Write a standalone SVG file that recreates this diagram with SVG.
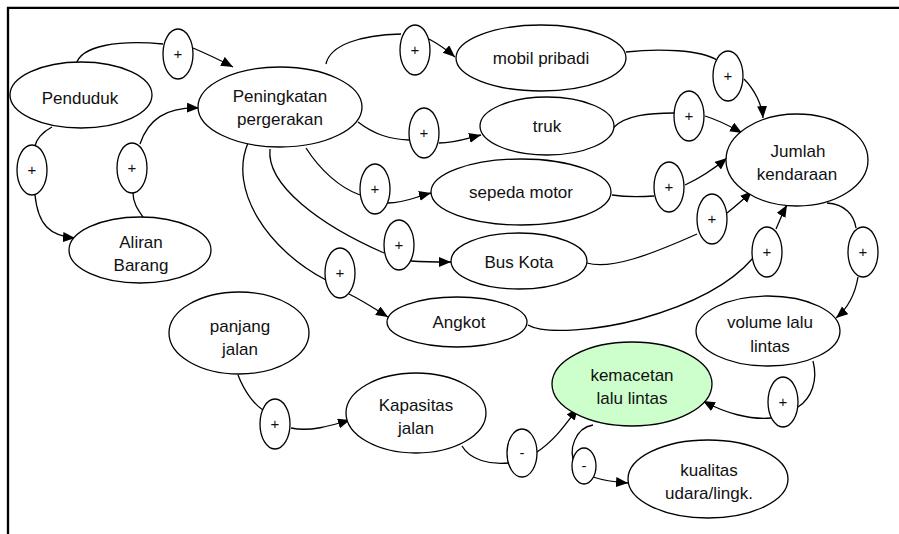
<svg xmlns="http://www.w3.org/2000/svg" width="899" height="534" viewBox="0 0 899 534">
  <style>
    .node ellipse { fill: #ffffff; stroke: #000000; stroke-width: 1.3; }
    .node.hot ellipse { fill: #ccffcc; }
    .sign ellipse { fill: #ffffff; stroke: #000000; stroke-width: 1.3; }
    text { font-family: "Liberation Sans", Arial, sans-serif; font-size: 17px; fill: #111111; text-anchor: middle; }
    .sign text { font-size: 15px; }
    .links path { fill: none; stroke: #000000; stroke-width: 1.3; }
    .links path.arrow { marker-end: url(#head); }
    .frame { stroke: #000000; stroke-width: 2.3; fill: none; }
  </style>
  <defs>
    <marker id="head" markerUnits="userSpaceOnUse" markerWidth="13" markerHeight="11" refX="12" refY="5" orient="auto">
      <path d="M0,0 L12,5 L0,10 Z" fill="#000000"/>
    </marker>
  </defs>

  <rect width="899" height="534" fill="#ffffff"/>

  <!-- frame: top and left rules -->
  <path class="frame" d="M8,534 L8,7.8 L899,7.8"/>

  <!-- connectors -->
  <g id="connectors" class="links">
    <path d="M76,65 C80,45 120,40 163,44"/>
    <path class="arrow" d="M193,48 C207,54 220,60 233,67"/>

    <path d="M52,127 C42,132 36,140 35,146"/>
    <path class="arrow" d="M35,195 C38,225 50,236 75,238"/>

    <path d="M147,223 C140,212 133,205 133,193"/>
    <path class="arrow" d="M140,144 C148,120 165,107 199,108"/>

    <path d="M326,64 C330,45 360,35 401,34"/>
    <path class="arrow" d="M429,39 C440,45 447,50 455,57"/>

    <path d="M358,122 C375,135 390,139 409,140"/>
    <path class="arrow" d="M439,143 C455,143 465,139 481,135"/>

    <path d="M306,148 C320,170 340,188 360,195"/>
    <path class="arrow" d="M388,203 C405,203 415,197 431,193"/>

    <path d="M270,149 C266,185 320,225 384,253"/>
    <path class="arrow" d="M411,261 C425,262 438,262 451,262"/>

    <path d="M248,143 C228,190 268,250 326,280"/>
    <path class="arrow" d="M349,294 C365,302 375,309 388,317"/>

    <path d="M626,52 C660,48 700,50 717,60"/>
    <path class="arrow" d="M744,79 C755,90 762,105 763,118"/>

    <path d="M613,128 C625,115 650,113 674,113"/>
    <path class="arrow" d="M705,116 C718,120 730,126 742,133"/>

    <path d="M612,195 C625,197 640,197 654,196"/>
    <path class="arrow" d="M685,185 C700,178 715,168 727,158"/>

    <path d="M587,263 C610,270 650,255 697,234"/>
    <path class="arrow" d="M727,213 C737,205 745,198 752,191"/>

    <path d="M528,325 C545,335 600,330 640,319 C690,305 730,285 753,258"/>
    <path class="arrow" d="M776,229 C780,220 783,212 787,205"/>

    <path d="M827,203 C845,204 854,215 856,228"/>
    <path class="arrow" d="M858,277 C855,295 848,308 836,318"/>

    <path d="M813,361 C818,380 812,398 798,407"/>
    <path class="arrow" d="M771,418 C750,420 725,413 703,401"/>

    <path d="M238,375 C245,393 255,405 263,410"/>
    <path class="arrow" d="M291,428 C310,432 330,426 350,420"/>

    <path d="M462,446 C470,460 490,465 509,463"/>
    <path class="arrow" d="M537,452 C555,440 565,425 578,408"/>

    <path d="M593,425 C575,428 568,450 575,464"/>
    <path class="arrow" d="M593,477 C605,481 615,482 628,483"/>
  </g>

  <!-- factor nodes -->
  <g id="penduduk" class="node">
    <ellipse cx="81" cy="95" rx="71" ry="33"/>
    <text x="80" y="104">Penduduk</text>
  </g>
  <g id="peningkatan-pergerakan" class="node">
    <ellipse cx="280" cy="107" rx="82" ry="40"/>
    <text x="280" y="102">Peningkatan</text>
    <text x="280" y="125">pergerakan</text>
  </g>
  <g id="aliran-barang" class="node">
    <ellipse cx="140" cy="250" rx="71" ry="33"/>
    <text x="141" y="248">Aliran</text>
    <text x="141" y="271">Barang</text>
  </g>
  <g id="mobil-pribadi" class="node">
    <ellipse cx="541" cy="58" rx="85" ry="33"/>
    <text x="541" y="64">mobil pribadi</text>
  </g>
  <g id="truk" class="node">
    <ellipse cx="547" cy="126" rx="67" ry="29"/>
    <text x="547" y="132">truk</text>
  </g>
  <g id="sepeda-motor" class="node">
    <ellipse cx="521" cy="192" rx="90" ry="33"/>
    <text x="521" y="198">sepeda motor</text>
  </g>
  <g id="bus-kota" class="node">
    <ellipse cx="519" cy="261" rx="68" ry="28"/>
    <text x="519" y="268">Bus Kota</text>
  </g>
  <g id="angkot" class="node">
    <ellipse cx="457" cy="322" rx="70" ry="25"/>
    <text x="459" y="328">Angkot</text>
  </g>
  <g id="jumlah-kendaraan" class="node">
    <ellipse cx="797" cy="160" rx="71" ry="46"/>
    <text x="798" y="157">Jumlah</text>
    <text x="797" y="180">kendaraan</text>
  </g>
  <g id="volume-lalu-lintas" class="node">
    <ellipse cx="768" cy="331" rx="72" ry="35"/>
    <text x="770" y="328">volume lalu</text>
    <text x="770" y="352">lintas</text>
  </g>
  <g id="panjang-jalan" class="node">
    <ellipse cx="239" cy="333" rx="70" ry="41"/>
    <text x="240" y="332">panjang</text>
    <text x="240" y="355">jalan</text>
  </g>
  <g id="kapasitas-jalan" class="node">
    <ellipse cx="416" cy="413" rx="70" ry="40"/>
    <text x="416" y="411">Kapasitas</text>
    <text x="416" y="434">jalan</text>
  </g>
  <g id="kemacetan-lalu-lintas" class="node hot">
    <ellipse cx="632" cy="384" rx="80" ry="42"/>
    <text x="632" y="381">kemacetan</text>
    <text x="632" y="404">lalu lintas</text>
  </g>
  <g id="kualitas-udara" class="node">
    <ellipse cx="708" cy="479" rx="80" ry="39"/>
    <text x="709" y="476">kualitas</text>
    <text x="709" y="499">udara/lingk.</text>
  </g>

  <!-- polarity signs on the links -->
  <g id="sign-penduduk-peningkatan" class="sign"><ellipse cx="178" cy="54" rx="15" ry="25"/><text x="178" y="59">+</text></g>
  <g id="sign-penduduk-aliran" class="sign"><ellipse cx="32" cy="170" rx="15" ry="25"/><text x="32" y="175">+</text></g>
  <g id="sign-aliran-peningkatan" class="sign"><ellipse cx="132" cy="168" rx="15" ry="25"/><text x="132" y="173">+</text></g>
  <g id="sign-peningkatan-mobil" class="sign"><ellipse cx="415" cy="50" rx="15" ry="25"/><text x="415" y="55">+</text></g>
  <g id="sign-peningkatan-truk" class="sign"><ellipse cx="424" cy="133" rx="15" ry="25"/><text x="424" y="138">+</text></g>
  <g id="sign-peningkatan-sepeda" class="sign"><ellipse cx="375" cy="189" rx="15" ry="25"/><text x="375" y="194">+</text></g>
  <g id="sign-peningkatan-bus" class="sign"><ellipse cx="399" cy="245" rx="15" ry="25"/><text x="399" y="250">+</text></g>
  <g id="sign-peningkatan-angkot" class="sign"><ellipse cx="340" cy="273" rx="15" ry="25"/><text x="340" y="278">+</text></g>
  <g id="sign-mobil-jumlah" class="sign"><ellipse cx="728" cy="76" rx="15" ry="25"/><text x="728" y="81">+</text></g>
  <g id="sign-truk-jumlah" class="sign"><ellipse cx="689" cy="116" rx="15" ry="25"/><text x="689" y="121">+</text></g>
  <g id="sign-sepeda-jumlah" class="sign"><ellipse cx="669" cy="187" rx="15" ry="25"/><text x="669" y="192">+</text></g>
  <g id="sign-bus-jumlah" class="sign"><ellipse cx="712" cy="219" rx="15" ry="25"/><text x="712" y="224">+</text></g>
  <g id="sign-angkot-jumlah" class="sign"><ellipse cx="767" cy="252" rx="15" ry="25"/><text x="767" y="257">+</text></g>
  <g id="sign-jumlah-volume" class="sign"><ellipse cx="863" cy="252" rx="15" ry="25"/><text x="863" y="257">+</text></g>
  <g id="sign-volume-kemacetan" class="sign"><ellipse cx="783" cy="402" rx="15" ry="25"/><text x="783" y="407">+</text></g>
  <g id="sign-panjang-kapasitas" class="sign"><ellipse cx="275" cy="424" rx="15" ry="25"/><text x="275" y="429">+</text></g>
  <g id="sign-kapasitas-kemacetan" class="sign"><ellipse cx="522" cy="453" rx="15" ry="24"/><text x="522" y="458">-</text></g>
  <g id="sign-kemacetan-kualitas" class="sign"><ellipse cx="584" cy="466" rx="12" ry="18"/><text x="584" y="471">-</text></g>
</svg>
